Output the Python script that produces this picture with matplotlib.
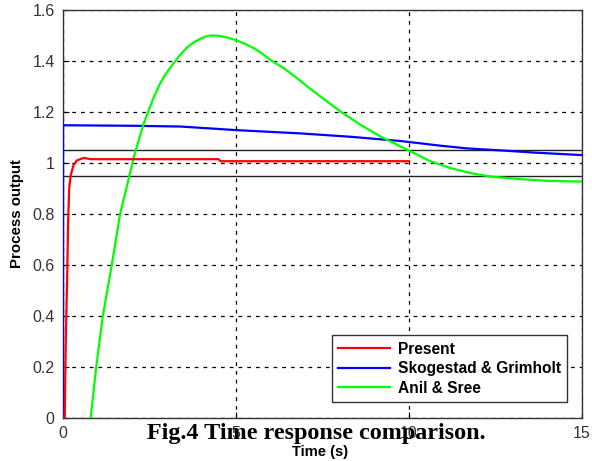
import matplotlib
matplotlib.use("Agg")
import matplotlib.pyplot as plt
import numpy as np

# Present controller
t_present = [0.0, 0.05, 0.08, 0.12, 0.15, 0.18, 0.22, 0.3, 0.4, 0.6, 0.8, 2.2, 4.5, 4.55, 10.0]
y_present = [0.0, 0.0, 0.3, 0.55, 0.78, 0.9, 0.95, 0.99, 1.01, 1.02, 1.015, 1.015, 1.015, 1.007, 1.007]

# Skogestad & Grimholt
t_skog = [0.0, 0.0, 2.0, 3.4, 5.0, 6.87, 8.3, 9.77, 10.9, 11.7, 12.7, 13.6, 15.0]
y_skog = [0.0, 1.148, 1.146, 1.143, 1.129, 1.116, 1.103, 1.086, 1.068, 1.057, 1.049, 1.041, 1.031]

# Anil & Sree
t_anil = [0.8, 0.96, 1.15, 1.41, 1.65, 1.92, 2.04, 2.32, 2.46, 2.6, 2.8, 2.95, 3.19, 3.39, 3.6,
          3.8, 3.97, 4.1, 4.26, 4.5, 4.75, 4.99, 5.25, 5.52, 5.75, 6.0, 6.4, 6.77, 7.1, 7.45,
          8.03, 8.61, 9.19, 9.77, 10.35, 10.6, 11.2, 11.8, 12.4, 13.3, 14.0, 15.0]
y_anil = [0.0, 0.2, 0.4, 0.6, 0.8, 0.95, 1.02, 1.15, 1.2, 1.25, 1.31, 1.345, 1.39, 1.425, 1.455,
          1.475, 1.487, 1.495, 1.5, 1.499, 1.492, 1.482, 1.468, 1.45, 1.43, 1.404, 1.37, 1.332,
          1.296, 1.26, 1.201, 1.149, 1.103, 1.064, 1.025, 1.008, 0.98, 0.96, 0.946, 0.936,
          0.93, 0.927]

band = [0.95, 1.05]
xticks = [0, 5, 10, 15]
yticks = [0, 0.2, 0.4, 0.6, 0.8, 1.0, 1.2, 1.4, 1.6]
ytick_labels = ["0", "0.2", "0.4", "0.6", "0.8", "1", "1.2", "1.4", "1.6"]

fig = plt.figure(figsize=(5.92, 4.61), dpi=100)
ax = fig.add_axes([63/592, 43/461, (582-63)/592, (418-10)/461])

ax.plot(t_present, y_present, color="#ff0000", lw=1.6, label="Present", zorder=4)
ax.plot(t_skog, y_skog, color="#0000ff", lw=1.6, label="Skogestad & Grimholt", zorder=3)
ax.plot(t_anil, y_anil, color="#00ff00", lw=1.6, label="Anil & Sree", zorder=3)
for b in band:
    ax.axhline(b, color="#222222", lw=1.0, zorder=2)

ax.set_xlim(0, 15)
ax.set_ylim(0, 1.6)
ax.set_xticks(xticks)
ax.set_yticks(yticks)
ax.set_yticklabels(ytick_labels)
ax.tick_params(direction="in", length=4, labelsize=11.5, colors="black", labelcolor="#333333", pad=6)
for lab in ax.get_xticklabels() + ax.get_yticklabels():
    lab.set_family("Liberation Sans")
ax.grid(True, color="black", linestyle=(0, (3, 4)), lw=0.9)
for s in ax.spines.values():
    s.set_linewidth(1.0)
    s.set_color("#333333")

ax.set_ylabel("Process output", fontsize=10.8, fontweight="bold", family="Liberation Sans", labelpad=6)
fig.text(320/592, 1 - 452/461, "Time (s)", fontsize=10.6, fontweight="bold", family="Liberation Sans",
         ha="center", va="center")
fig.text(316/592, 1 - 433/461, "Fig.4 Time response comparison.", fontsize=17.4, fontweight="bold",
         family="Liberation Serif", ha="center", va="center")

leg = ax.legend(loc="lower right", bbox_to_anchor=(0.971, 0.039), borderaxespad=0,
                prop={"family": "Liberation Sans", "weight": "bold", "size": 11.2},
                fancybox=False, framealpha=1, edgecolor="#333333", handlelength=3.3, borderpad=0.4,
                labelspacing=0.3, handletextpad=0.5)
leg.get_frame().set_linewidth(1.0)

fig.savefig("out.png", dpi=100)
